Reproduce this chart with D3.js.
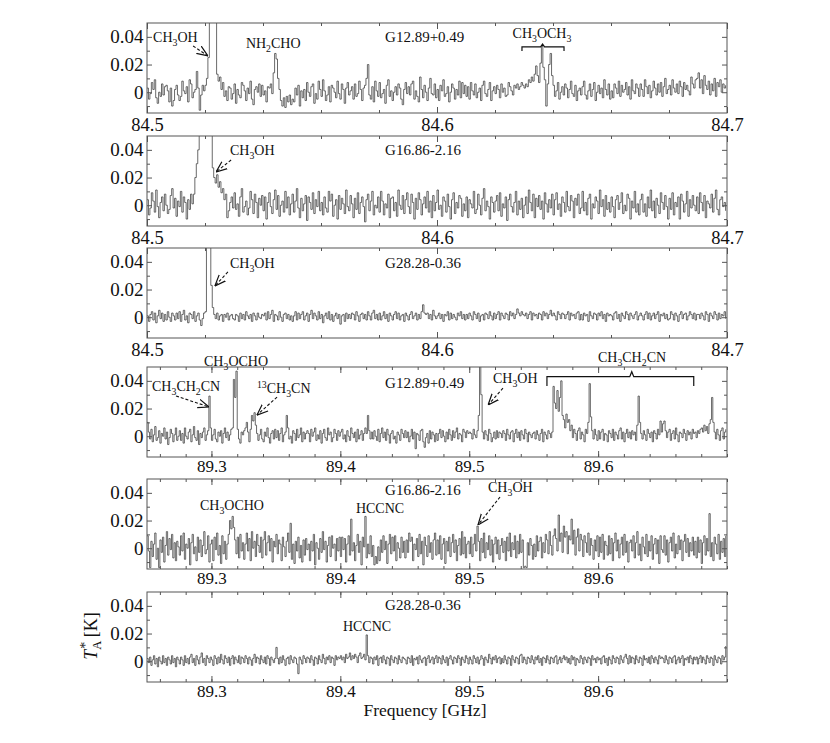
<!DOCTYPE html>
<html>
<head>
<meta charset="utf-8">
<script src="https://cdn.jsdelivr.net/npm/d3@7/dist/d3.min.js"></script>
<style>
body{margin:0;background:#fff}
svg text{font-family:"Liberation Serif","Times New Roman",serif;fill:#111}
</style>
</head>
<body>
<svg id="chart" width="830" height="743"></svg>
<script>
// spectra in mK, channel i starts at f0 + i*df (GHz)
const f0Low = 84.5, dfLow = 0.0005
const f0High = 89.25, dfHigh = 0.001

const g12Low = [
  3,-5,-1,7,2,9,-4,-8,0,-3,6,-2,4,5,1,-7,3,-10,-6,2,
  5,-2,-6,-3,8,1,-1,4,-7,9,6,-4,0,2,15,3,-13,-2,5,1,
  5,10,25,90,160,200,150,90,13,8,11,2,7,-3,1,-6,4,3,-5,-1,
  6,-8,2,-2,-4,7,5,1,-6,3,-1,8,-5,-9,2,4,0,6,-3,5,
  -2,1,-7,4,3,6,-1,14,28,24,10,2,-6,-10,-4,-11,-3,-7,-2,-9,
  -5,-7,3,-2,5,-10,1,-4,2,-6,7,0,-3,4,6,-8,-1,-5,8,2,
  -3,9,1,-6,-2,4,-7,5,3,0,-4,8,-1,-5,6,2,-8,3,7,-2,
  1,4,-5,6,-3,-1,8,2,-6,3,5,10,20,-2,-5,4,-7,8,1,-3,
  7,-4,-1,2,-8,5,9,-3,1,-6,0,4,-2,6,3,-5,-9,2,7,-1,
  4,-2,6,8,-5,1,-3,-7,11,2,-4,5,0,-6,3,10,-1,-2,6,-4,
  2,-6,5,1,9,-3,-1,4,-7,0,6,3,-5,2,-2,8,-4,7,-1,5,
  -3,4,-5,7,1,-2,6,-4,0,3,-6,5,8,-1,-3,2,7,-6,1,4,
  -1,5,2,-4,6,0,3,-3,-2,7,4,1,-2,5,3,6,2,4,7,5,
  3,6,4,9,7,11,8,13,19,12,7,21,33,18,9,-10,6,20,28,12,
  5,-3,1,7,-5,0,4,-2,6,3,-4,2,8,-1,-3,5,-6,1,3,-2,
  4,8,-2,-5,1,6,-3,2,7,-6,0,5,-1,3,-4,9,2,-2,6,-5,
  1,-4,6,3,-1,8,-3,5,0,2,7,-2,4,-5,9,1,-1,6,3,-3,
  6,2,-3,9,4,-1,5,-4,1,8,3,-2,6,0,7,-3,4,10,-1,2,
  5,-2,9,3,0,6,-1,8,4,-3,7,2,5,1,-2,11,6,3,9,10,
  14,3,9,-1,12,5,2,8,-2,6,1,10,-3,7,4,9,0,6,3,5
]
const g16Low = [
  4,-7,-2,9,3,-5,11,-1,-9,2,6,-4,8,0,-6,-3,7,12,-2,5,
  -8,3,-1,10,-5,6,2,-10,4,-3,8,1,8,20,30,40,80,110,130,140,
  130,120,100,85,65,27,20,16,22,13,17,9,12,4,8,-9,-4,2,6,-2,
  9,-3,1,-8,6,12,-5,-1,3,-7,-2,10,4,-6,8,2,-9,5,0,7,
  -4,6,-10,2,9,-1,-6,4,11,-3,7,-8,0,3,-5,10,-2,6,-7,1,
  8,-5,3,12,-2,-9,5,-4,1,7,-11,6,2,-3,9,-6,4,-1,10,-4,
  2,-7,6,-2,-5,10,3,8,-8,0,4,-10,7,-3,5,1,-6,11,-1,-4,
  7,1,-9,5,-3,9,-6,2,6,-1,-12,4,8,-4,3,10,-7,0,-2,6,
  -5,10,3,-7,1,-2,8,-9,5,6,-4,2,-8,11,0,-3,7,-6,4,9,
  -1,-6,8,2,-10,5,-3,9,4,-7,1,6,-2,10,-5,3,-9,7,-4,2,
  11,-3,0,-8,6,3,-5,8,-1,-10,4,9,-6,2,-2,7,5,-8,1,-4,
  6,-9,4,1,-2,10,-6,-3,8,0,-7,5,12,-4,3,-1,-10,6,2,-5,
  3,7,-4,9,-8,1,-2,6,-11,4,8,-1,-5,2,10,-7,3,-3,5,-9,
  0,6,-6,11,2,-4,8,-9,5,-1,7,-3,3,-10,9,1,-5,4,-2,8,
  -7,4,9,-3,1,-8,6,2,-5,10,-1,-4,7,3,-9,5,0,8,-6,-2,
  10,-4,2,-7,5,8,-10,1,-2,6,3,-6,11,-1,4,-8,7,-3,2,-5,
  6,-1,-9,4,7,-3,2,9,-6,0,-4,8,5,-10,3,-2,10,-5,1,-7,
  4,8,-5,1,-8,6,-2,11,-4,3,-9,5,0,-6,9,2,-3,7,-1,-10,
  5,-3,9,-7,2,-1,6,-10,8,3,-5,1,10,-8,4,-2,7,0,-4,6,
  -6,9,2,-4,7,-9,3,1,-2,8,-5,5,11,-3,-7,4,6,-1,2,-4
]
const g28Low = [
  1,-3,2,4,-2,3,-4,1,5,-1,3,-3,2,-2,4,0,-3,3,1,-2,
  3,-1,4,-3,2,5,-2,1,-4,3,2,-1,4,-3,1,3,-2,-6,-1,3,
  4,70,95,75,23,7,2,-1,3,-2,1,2,-3,2,0,3,-2,1,2,-1,
  -2,2,1,-3,3,-1,2,-2,4,1,-1,2,-3,3,1,-2,3,0,-1,2,
  1,3,-2,4,-1,2,5,-3,2,1,-2,4,0,-3,2,3,-1,2,-2,1,
  -3,1,4,-2,3,-1,2,4,-2,1,3,-3,2,5,-1,3,1,-2,4,-1,
  2,-4,1,3,-1,4,-2,2,-3,1,3,-1,2,-5,1,2,-3,3,-1,2,
  -1,3,2,-2,4,1,-3,2,3,-1,2,-2,4,1,-2,3,5,-1,2,-2,
  3,-2,1,4,-1,2,-3,3,1,-2,2,4,-1,3,-2,1,2,-3,3,1,
  -2,2,4,-1,1,3,-2,2,-1,4,9,3,2,3,-1,2,-2,5,1,-1,
  1,3,-1,2,-3,2,1,4,-2,3,-1,2,0,-2,3,1,4,-1,2,-2,
  2,-1,3,1,-2,4,2,-1,3,-3,1,2,-2,3,2,-1,4,1,-2,3,
  -1,2,4,-2,3,1,-1,3,2,-2,4,1,3,-1,2,6,3,1,4,2,
  1,3,-1,2,4,-2,3,1,2,-1,3,2,-2,4,1,3,-1,2,5,1,
  3,1,-2,4,2,-1,3,2,-1,2,4,-2,3,1,2,-1,3,4,-2,2,
  -2,3,1,2,-3,4,1,-1,3,2,-2,3,1,4,-1,2,-3,3,1,2,
  1,-2,3,4,-1,2,-3,3,1,-1,4,2,-2,3,1,-1,2,4,-2,1,
  3,1,-2,2,4,-1,3,-2,1,3,-1,2,4,-3,2,1,3,-1,2,-2,
  -1,4,2,-2,3,1,-3,2,4,-1,2,3,-2,1,4,2,-1,3,-2,2,
  2,-1,3,1,-2,4,2,-3,3,1,-1,4,2,-2,3,-1,2,1,4,-1
]
const g12High = [
  10,3,-2,5,-4,1,7,-3,-1,4,-5,2,0,6,-2,3,-6,-1,5,2,-4,1,6,-3,0,
  4,-3,2,-5,6,0,-2,3,5,-4,1,7,-1,-3,4,-6,2,-1,3,6,-3,1,4,29,6,
  -3,1,5,-2,-4,3,0,4,-5,2,6,-1,3,-3,1,5,6,41,28,47,5,-2,-5,3,1,
  4,6,10,3,-4,5,15,11,17,8,2,-3,1,5,-2,-4,3,0,6,-1,-5,2,4,-2,5,
  -1,4,-3,2,6,-4,1,3,15,6,-2,0,-5,4,2,-3,5,-1,1,6,-4,3,-2,2,4,
  2,-4,5,0,3,6,-3,1,-2,4,-5,2,5,-1,-3,6,1,3,-4,-1,5,2,-3,4,0,
  3,5,-2,1,-4,4,0,-3,6,2,-1,3,-4,5,-2,1,4,-3,2,6,2,15,4,-2,3,
  -2,4,0,-3,5,-4,2,6,-1,3,-3,5,1,-5,2,4,-2,0,-5,3,1,-3,5,2,-1,
  4,-1,3,-4,0,5,-2,3,-9,2,1,-3,4,5,-4,-8,-1,2,-5,4,-2,3,1,-4,2,
  -3,2,5,-1,4,0,-4,3,-2,5,1,-3,4,-1,3,6,-2,2,1,-4,5,3,-1,4,2,
  3,2,-2,5,1,-1,4,15,80,30,3,-2,4,1,-3,5,2,-4,-1,3,-2,4,-1,3,2,
  -1,4,2,-3,5,1,-2,3,4,-4,2,5,-1,3,-3,4,1,-2,5,2,-4,3,1,-1,2,
  3,-2,4,1,-3,2,5,-4,3,1,-2,4,2,-1,3,36,24,20,33,18,28,40,15,12,6,
  16,10,12,4,8,-1,5,2,-3,4,6,-2,3,1,-4,5,2,10,38,14,4,-2,5,1,-3,
  4,-2,3,5,-3,2,1,-4,4,2,-1,5,-3,3,1,-2,4,6,-2,3,-4,2,5,-1,3,
  -2,4,1,3,-3,8,29,10,2,-2,4,1,-3,5,2,-1,3,-4,4,2,-2,5,1,11,3,
  9,11,4,-1,3,5,-3,2,4,-2,6,1,-4,3,2,-1,5,2,-3,4,1,3,-2,5,2,
  3,-1,4,2,5,6,3,8,4,7,2,9,12,28,10,3,-2,5,1,-3,4,6,-2,3,5
]
const g16High = [
  9,-2,-14,5,-6,3,11,-8,0,-14,6,-3,8,-10,2,12,-5,7,-1,10,-7,4,-9,5,1,
  -5,9,-2,11,-8,3,0,7,-12,4,10,-4,1,-9,8,-3,6,-6,2,12,-4,-1,9,-10,3,
  6,-9,8,-1,11,-5,2,-11,9,-4,5,-8,3,10,20,14,23,15,6,-4,8,-7,10,-2,4,
  -8,3,11,-2,7,-9,12,0,5,-6,10,2,-3,8,-7,6,12,-5,4,9,-2,7,-10,5,1,
  10,-4,6,3,-9,8,1,-6,5,11,-3,18,-8,3,-11,5,-2,8,-7,2,-10,6,-5,7,-1,
  3,-9,5,-2,10,-12,4,0,-8,7,-3,12,-1,5,-10,2,8,-6,9,0,3,-9,7,-2,8,
  -6,8,-1,7,-10,3,9,-5,21,-2,4,-9,2,10,-3,5,-12,8,1,23,-7,3,-4,9,-6,
  2,-12,-6,-11,1,-9,6,-3,9,-1,5,-11,3,10,-4,8,-2,9,-9,4,0,-7,8,-3,5,
  -7,6,-3,11,5,8,-9,3,-1,7,-6,10,-4,5,-12,8,2,-6,9,-3,4,-8,6,11,-5,
  6,-4,9,-8,3,7,-11,5,-2,8,-6,4,10,-3,6,-9,2,7,-5,12,-4,8,-7,3,5,
  -4,8,-6,3,10,-2,16,5,-9,7,-3,11,-7,4,-1,9,-5,6,-10,3,8,-4,6,-8,2,
  7,-3,5,-9,8,-2,11,-6,4,-1,9,-7,5,-4,10,-3,6,-14,-13,-14,4,-5,7,2,-8,
  3,-6,9,-2,5,8,-7,4,-3,10,6,-4,12,2,-5,9,14,7,-2,24,5,11,-3,16,8,
  12,-4,9,6,21,3,13,-5,8,14,-2,10,6,-6,9,4,-3,11,-5,7,2,-8,6,-2,9,
  -6,8,-3,10,-8,5,2,-5,9,-4,7,-9,4,11,-2,6,-7,3,8,-5,10,-3,5,-10,4,
  6,-2,9,-7,4,12,-5,3,-9,8,1,-4,10,-6,5,-2,9,-8,3,7,-4,6,-11,9,-1,
  -3,9,-5,6,-10,4,8,-2,11,-7,3,-4,9,-1,6,-9,5,10,-3,7,-6,4,-2,8,-5,
  5,-7,8,-3,6,-11,4,9,-5,7,-2,25,-6,4,-9,8,3,-4,10,-8,5,-3,7,-6,9
]
const g28High = [
  2,-1,3,-3,1,4,-2,2,-4,3,0,-2,4,-1,2,-3,3,1,-2,4,-1,2,-4,3,1,
  -2,3,1,-3,4,-1,2,-2,3,5,-1,2,-3,4,1,-2,3,6,-1,2,-3,4,2,-1,3,
  1,-3,4,2,-2,3,-1,5,1,-2,4,2,-1,3,-3,2,4,-2,3,1,-1,4,-2,3,2,
  -1,4,2,-2,3,1,-3,2,5,-1,3,2,-2,4,1,-1,3,-2,4,2,-3,3,1,-1,2,
  10,2,-2,3,-1,4,1,-3,2,3,-2,4,1,-1,3,2,-2,-9,3,1,-2,4,2,-1,3,
  2,-1,4,1,-3,3,2,-2,4,1,-1,5,2,-2,3,1,4,-1,3,2,-3,4,1,3,2,
  4,1,3,-1,5,2,3,6,1,4,2,5,3,-1,4,6,2,3,5,1,19,4,-1,3,2,
  -2,3,1,4,-3,2,3,-1,4,1,-2,3,2,-3,4,1,-1,3,2,-2,4,1,-1,3,2,
  1,-2,3,2,-1,4,-3,2,1,3,-2,4,1,-1,2,3,-3,2,4,-1,1,3,-2,2,4,
  -1,3,2,-2,4,1,-1,3,-3,2,4,1,-2,3,2,-1,4,2,-3,3,1,-1,4,2,-2,
  3,1,-2,4,2,-1,3,-2,1,4,2,-3,3,1,-1,5,2,-2,3,1,4,-1,2,3,-2,
  2,-1,4,1,-2,3,2,-3,4,1,-1,3,2,-2,4,5,-1,3,1,-2,3,2,-1,4,1,
  -2,3,1,4,-1,2,-3,3,2,-1,4,1,-2,3,2,-1,3,4,-2,1,3,-1,2,4,1,
  3,-1,2,-2,4,1,3,-3,2,1,-1,4,2,-2,3,1,-1,3,2,-3,4,1,2,-1,3,
  1,2,-2,3,4,-1,2,-3,3,1,-2,4,2,-1,3,2,-2,4,1,-1,3,5,2,-2,4,
  -1,3,2,-2,4,1,-1,3,2,-3,4,1,2,-1,3,-2,4,2,-1,3,1,-2,4,2,3,
  2,-1,4,1,-2,3,2,-1,3,4,-2,1,3,-1,2,4,-3,2,1,3,-1,4,2,-2,3,
  1,3,-2,2,4,-1,3,1,-2,4,2,-1,3,2,-3,4,1,-1,3,2,-2,4,1,3,11
]

const sources = ['G12.89+0.49', 'G16.86-2.16', 'G28.28-0.36']
const lowTicks = [84.5, 84.6, 84.7]
const highTicks = [89.3, 89.4, 89.5, 89.6]
const yMajor = [0, 0.02, 0.04]
const yMinor = [-0.01, 0.01, 0.03]

// labels in data units (GHz, K)
const notes = [
  {p:0, t:'CH_3OH', f:84.5021, v:0.0363, a:'start'},
  {p:0, t:'NH_2CHO', f:84.5341, v:0.0319, a:'start'},
  {p:0, t:'CH_3OCH_3', f:84.6362, v:0.0392, a:'middle'},
  {p:1, t:'CH_3OH', f:84.5286, v:0.0363, a:'start'},
  {p:2, t:'CH_3OH', f:84.5286, v:0.0356, a:'start'},
  {p:3, t:'CH_3OCHO', f:89.3191, v:0.0507, a:'middle'},
  {p:3, t:'CH_3CH_2CN', f:89.2539, v:0.0327, a:'start'},
  {p:3, t:'^13CH_3CN', f:89.3353, v:0.0312, a:'start'},
  {p:3, t:'CH_3OH', f:89.5184, v:0.0384, a:'start'},
  {p:3, t:'CH_3CH_2CN', f:89.6263, v:0.0536, a:'middle'},
  {p:4, t:'CH_3OCHO', f:89.3159, v:0.0276, a:'middle'},
  {p:4, t:'HCCNC', f:89.4308, v:0.0254, a:'middle'},
  {p:4, t:'CH_3OH', f:89.5146, v:0.0406, a:'start'},
  {p:5, t:'HCCNC', f:89.4207, v:0.0218, a:'middle'}
]
const arrows = [
  {p:0, f1:84.5159, v1:0.0334, f2:84.5210, v2:0.0262},
  {p:1, f1:84.5290, v1:0.0327, f2:84.5238, v2:0.0240},
  {p:2, f1:84.5279, v1:0.0327, f2:84.5234, v2:0.0226},
  {p:3, f1:89.2725, v1:0.0291, f2:89.2981, v2:0.0211},
  {p:3, f1:89.3509, v1:0.0283, f2:89.3353, v2:0.0153},
  {p:3, f1:89.5262, v1:0.0348, f2:89.5146, v2:0.0226},
  {p:4, f1:89.5239, v1:0.0370, f2:89.5068, v2:0.0168}
]
const braces = [
  {p:0, f1:84.6293, f2:84.6438, fm:84.6364, vBar:0.0327, vEnd:0.0298, vTip:0.0348},
  {p:3, f1:89.5603, f2:89.6742, fm:89.6261, vBar:0.0430, vEnd:0.0363, vTip:0.0466}
]
const srcPos = [
  {p:0, s:0, v:0.0363}, {p:1, s:1, v:0.0363}, {p:2, s:2, v:0.0356},
  {p:3, s:0, v:0.0348}, {p:4, s:1, v:0.0384}, {p:5, s:2, v:0.0370}
]

const svg = d3.select('#chart')
const left = 147, W = 580, H = 90
const bands = {
  low:  {f0:f0Low, df:dfLow, dom:[84.5, 84.7], major:lowTicks, srcF:84.5821, pad:4.5, fs:18.5},
  high: {f0:f0High, df:dfHigh, dom:[89.25, 89.70], major:highTicks, srcF:89.4347, pad:2.5, fs:17}
}
const panels = [
  {top:23, spec:g12Low, band:'low'},
  {top:136, spec:g16Low, band:'low'},
  {top:248, spec:g28Low, band:'low'},
  {top:367, spec:g12High, band:'high'},
  {top:479, spec:g16High, band:'high'},
  {top:592, spec:g28High, band:'high'}
]

const defs = svg.append('defs')
defs.append('marker')
  .attr('id', 'head')
  .attr('markerUnits', 'userSpaceOnUse')
  .attr('viewBox', '0 0 10 10')
  .attr('refX', 10).attr('refY', 5)
  .attr('markerWidth', 11).attr('markerHeight', 11)
  .attr('orient', 'auto')
  .append('path')
  .attr('d', 'M0,1 L10,5 L0,9')
  .attr('fill', 'none')
  .attr('stroke', '#111')
  .attr('stroke-width', 1.1)

function richText(sel, str, size){
  const parts = str.match(/[_^]\d+|[^_^]+/g)
  let shift = 0
  parts.forEach(s=>{
    let txt = s, fs = size, dy
    if(s[0] === '_'){ txt = s.slice(1); fs = size*0.7; dy = size*0.28 - shift; shift = size*0.28 }
    else if(s[0] === '^'){ txt = s.slice(1); fs = size*0.7; dy = -size*0.38 - shift; shift = -size*0.38 }
    else { dy = -shift; shift = 0 }
    sel.append('tspan').attr('font-size', fs).attr('dy', dy).text(txt)
  })
}

const scales = panels.map((pn, i)=>{
  const b = bands[pn.band]
  const x = d3.scaleLinear().domain(b.dom).range([left, left+W])
  const y = d3.scaleLinear().domain([-0.015, 0.05]).range([pn.top+H, pn.top])
  const g = svg.append('g')

  defs.append('clipPath').attr('id', `clip${i}`)
    .append('rect').attr('x', left).attr('y', pn.top).attr('width', W).attr('height', H)

  const line = d3.line()
    .x((d, k)=> x(b.f0 + k*b.df))
    .y(d=> y(d/1000))
    .curve(d3.curveStepAfter)
  g.append('path')
    .datum(pn.spec)
    .attr('clip-path', `url(#clip${i})`)
    .attr('d', line)
    .attr('fill', 'none')
    .attr('stroke', '#444')
    .attr('stroke-width', 0.8)

  // minor x ticks every 20 MHz
  const n0 = Math.ceil(b.dom[0]/0.02 - 1e-6), n1 = Math.floor(b.dom[1]/0.02 + 1e-6)
  const minorX = d3.range(n0, n1+1).map(k=> +(k*0.02).toFixed(2))
  const axB = g.append('g').attr('transform', `translate(0,${pn.top+H})`)
  axB.call(d3.axisBottom(x).tickValues(minorX).tickSize(-3).tickFormat(''))
  const labB = axB.append('g').call(d3.axisBottom(x).tickValues(b.major).tickSize(-6).tickPadding(b.pad).tickFormat(d3.format('.1f')))
  const axT = g.append('g').attr('transform', `translate(0,${pn.top})`)
  axT.call(d3.axisTop(x).tickValues(minorX).tickSize(-3).tickFormat(''))
  axT.append('g').call(d3.axisTop(x).tickValues(b.major).tickSize(-6).tickFormat(''))

  const axL = g.append('g').attr('transform', `translate(${left},0)`)
  axL.call(d3.axisLeft(y).tickValues(yMinor).tickSize(-3).tickFormat(''))
  const labL = axL.append('g').call(d3.axisLeft(y).tickValues(yMajor).tickSize(-5).tickPadding(3.5)
    .tickFormat(d=> d === 0 ? '0' : d3.format('.2f')(d)))
  const axR = g.append('g').attr('transform', `translate(${left+W},0)`)
  axR.call(d3.axisRight(y).tickValues(yMinor).tickSize(-3).tickFormat(''))
  axR.append('g').call(d3.axisRight(y).tickValues(yMajor).tickSize(-5).tickFormat(''))

  g.selectAll('.domain').remove()
  g.selectAll('.tick line').attr('stroke', '#555')
  g.selectAll('.tick text').attr('fill', '#111')
    .style('font-family', '"Liberation Serif","Times New Roman",serif')
  labB.selectAll('.tick text').attr('font-size', b.fs)
  labL.selectAll('.tick text').attr('font-size', 19)

  g.append('rect')
    .attr('x', left).attr('y', pn.top).attr('width', W).attr('height', H)
    .attr('fill', 'none').attr('stroke', '#555').attr('stroke-width', 1)

  return {x, y}
})

// source names
srcPos.forEach(d=>{
  const {x, y} = scales[d.p]
  svg.append('text')
    .attr('x', x(bands[panels[d.p].band].srcF)).attr('y', y(d.v))
    .attr('font-size', 15)
    .text(sources[d.s])
})

// molecule labels
notes.forEach(d=>{
  const {x, y} = scales[d.p]
  const t = svg.append('text')
    .attr('x', x(d.f)).attr('y', y(d.v))
    .attr('text-anchor', d.a)
    .attr('font-size', 14)
  richText(t, d.t, 14)
})

arrows.forEach(d=>{
  const {x, y} = scales[d.p]
  svg.append('line')
    .attr('x1', x(d.f1)).attr('y1', y(d.v1))
    .attr('x2', x(d.f2)).attr('y2', y(d.v2))
    .attr('stroke', '#111').attr('stroke-width', 1.1)
    .attr('stroke-dasharray', '3,2')
    .attr('marker-end', 'url(#head)')
})

braces.forEach(d=>{
  const {x, y} = scales[d.p]
  const path = d3.path()
  path.moveTo(x(d.f1), y(d.vEnd))
  path.lineTo(x(d.f1), y(d.vBar))
  path.lineTo(x(d.fm) - 2, y(d.vBar))
  path.lineTo(x(d.fm), y(d.vTip))
  path.lineTo(x(d.fm) + 2, y(d.vBar))
  path.lineTo(x(d.f2), y(d.vBar))
  path.lineTo(x(d.f2), y(d.vEnd))
  svg.append('path').attr('d', path.toString())
    .attr('fill', 'none').attr('stroke', '#111').attr('stroke-width', 1.2)
})

// axis titles
svg.append('text')
  .attr('x', left + W/2 - 12).attr('y', 716)
  .attr('text-anchor', 'middle')
  .attr('font-size', 17.5)
  .text('Frequency [GHz]')

const yt = svg.append('text')
  .attr('transform', 'translate(97,636) rotate(-90)')
  .attr('text-anchor', 'middle')
  .attr('font-size', 18)
yt.append('tspan').attr('font-style', 'italic').text('T')
yt.append('tspan').attr('font-size', 12.5).attr('dy', 4).text('A')
yt.append('tspan').attr('font-size', 14).attr('dx', -8).attr('dy', -11).text('*')
yt.append('tspan').attr('dy', 7).text(' [K]')
</script>
</body>
</html>
